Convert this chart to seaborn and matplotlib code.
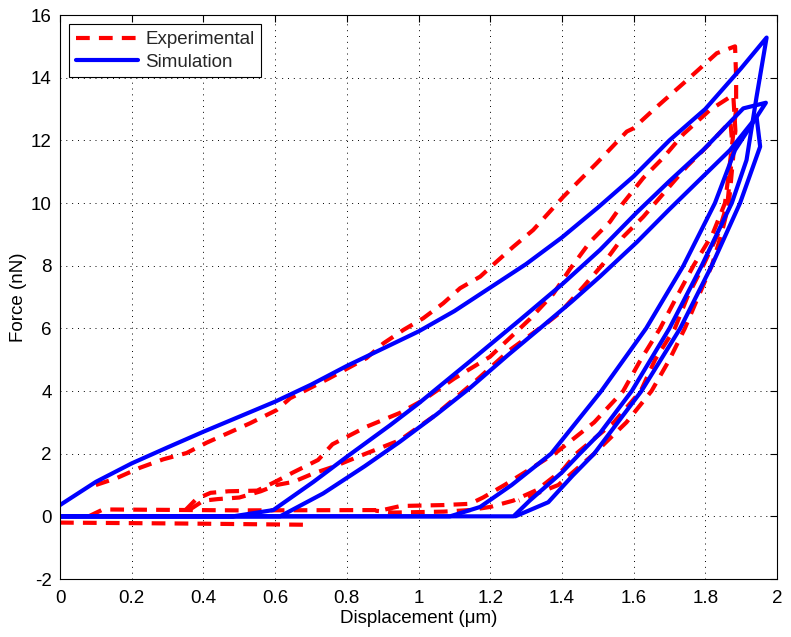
import matplotlib
matplotlib.use("Agg")
import numpy as np
import pandas as pd
import matplotlib.pyplot as plt
from matplotlib.lines import Line2D
import seaborn as sns

# ---------------------------
# DATA
# ---------------------------
# Simulation, three load/unload cycles
sim_c1_x = [0.0, 0.1, 0.2, 0.3, 0.4, 0.5, 0.6, 0.7, 0.8, 0.9, 1.0, 1.1, 1.2, 1.3, 1.4,
            1.5, 1.6, 1.7, 1.8, 1.9, 1.971, 1.943, 1.915, 1.874, 1.79, 1.70, 1.595,
            1.506, 1.45, 1.40, 1.31, 1.265, 0.0]
sim_c1_y = [0.36, 1.1, 1.69, 2.2, 2.7, 3.18, 3.66, 4.2, 4.8, 5.35, 5.9, 6.55, 7.3, 8.05, 8.9,
            9.85, 10.85, 12.0, 13.0, 14.3, 15.28, 13.39, 11.37, 10.0, 8.0, 6.0, 4.0,
            2.65, 2.0, 1.4, 0.5, 0.0, 0.0]

sim_c2_x = [0.0, 0.483, 0.595, 0.707, 0.8, 0.921, 1.0, 1.144, 1.283, 1.4, 1.506, 1.609, 1.7,
            1.794, 1.906, 1.969, 1.883, 1.827, 1.739, 1.635, 1.51, 1.37, 1.26, 1.172, 1.088, 0.0]
sim_c2_y = [0.0, 0.0, 0.2, 1.1, 1.9, 2.91, 3.6, 4.95, 6.27, 7.4, 8.5, 9.7, 10.7,
            11.69, 13.02, 13.2, 11.69, 10.0, 8.0, 6.0, 4.0, 2.0, 1.0, 0.3, 0.0, 0.0]

sim_c3_x = [0.0, 0.614, 0.734, 0.85, 0.948, 1.05, 1.144, 1.25, 1.339, 1.427, 1.506, 1.609,
            1.7, 1.869, 1.943, 1.953, 1.897, 1.818, 1.73, 1.622, 1.49, 1.43, 1.362, 1.27]
sim_c3_y = [0.0, 0.0, 0.73, 1.6, 2.38, 3.25, 4.1, 5.15, 6.0, 6.85, 7.65, 8.75,
            9.8, 11.69, 12.75, 11.8, 10.0, 8.0, 6.0, 4.0, 2.0, 1.3, 0.45, 0.0]

# Experimental, three cycles plus the negative baseline
exp_c1_x = [0.1, 0.158, 0.223, 0.288, 0.353, 0.409, 0.53, 0.604, 0.642, 0.75, 0.855, 0.902,
            0.958, 1.013, 1.069, 1.116, 1.172, 1.218, 1.264, 1.32, 1.404, 1.497, 1.581, 1.599,
            1.655, 1.739, 1.832, 1.883, 1.886, 1.886, 1.876, 1.866, 1.855, 1.82, 1.767, 1.72,
            1.674, 1.62, 1.571, 1.49, 1.38, 1.31, 1.24, 1.18, 1.144, 1.07, 0.95, 0.9, 0.5,
            0.12, 0.08]
exp_c1_y = [1.0, 1.22, 1.55, 1.82, 2.02, 2.35, 2.97, 3.39, 3.77, 4.4, 5.05, 5.52,
            5.95, 6.32, 6.8, 7.28, 7.65, 8.13, 8.6, 9.14, 10.2, 11.27, 12.28, 12.38,
            12.97, 13.82, 14.78, 15.0, 14.0, 13.0, 12.0, 11.0, 10.0, 9.0, 8.0, 7.0,
            6.0, 5.0, 4.0, 3.0, 2.0, 1.5, 1.0, 0.6, 0.4, 0.36, 0.33, 0.2, 0.19,
            0.22, 0.0]

exp_c2_x = [0.35, 0.38, 0.42, 0.47, 0.55, 0.6, 0.65, 0.72, 0.76, 0.855, 0.948, 1.013, 1.1,
            1.199, 1.311, 1.376, 1.423, 1.478, 1.534, 1.571, 1.627, 1.683, 1.739, 1.813,
            1.878, 1.884, 1.872, 1.862, 1.835, 1.794, 1.75, 1.715, 1.66, 1.62, 1.545, 1.44,
            1.404, 1.33, 1.264, 1.2, 1.144, 1.07, 0.93, 0.88]
exp_c2_y = [0.2, 0.55, 0.75, 0.8, 0.82, 1.1, 1.4, 1.8, 2.3, 2.86, 3.3, 3.71, 4.4,
            5.09, 6.3, 7.1, 7.9, 8.75, 9.4, 10.0, 10.8, 11.45, 12.2, 12.97,
            13.45, 12.3, 11.2, 10.0, 9.0, 8.0, 7.0, 6.0, 5.0, 4.0, 3.0, 2.0,
            1.5, 0.84, 0.5, 0.3, 0.2, 0.15, 0.12, 0.18]

exp_c3_x = [0.36, 0.40, 0.44, 0.5, 0.56, 0.604, 0.651, 0.707, 0.762, 0.855, 0.948, 1.041,
            1.162, 1.255, 1.357, 1.395, 1.46, 1.516, 1.571, 1.627, 1.748, 1.813, 1.87, 1.878,
            1.866, 1.845, 1.818, 1.78, 1.743, 1.70, 1.65, 1.58, 1.49, 1.39, 1.28]
exp_c3_y = [0.2, 0.5, 0.55, 0.6, 0.8, 1.0, 1.1, 1.37, 1.58, 2.01, 2.43, 3.18,
            4.35, 5.31, 6.16, 6.5, 7.33, 8.07, 8.92, 9.56, 11.16, 11.9, 12.6, 11.5,
            10.0, 9.0, 8.0, 7.0, 6.0, 5.0, 4.0, 3.0, 2.0, 1.0, 0.5]

exp_base_x = [0.0, 0.35, 0.7]
exp_base_y = [-0.2, -0.23, -0.27]

x_ticks = [0, 0.2, 0.4, 0.6, 0.8, 1, 1.2, 1.4, 1.6, 1.8, 2]
x_labels = ["0", "0.2", "0.4", "0.6", "0.8", "1", "1.2", "1.4", "1.6", "1.8", "2"]
y_ticks = [-2, 0, 2, 4, 6, 8, 10, 12, 14, 16]

# ---------------------------
# DATAFRAME
# ---------------------------
parts = [
    ("Experimental", "e0", exp_base_x, exp_base_y),
    ("Experimental", "e1", exp_c1_x, exp_c1_y),
    ("Experimental", "e2", exp_c2_x, exp_c2_y),
    ("Experimental", "e3", exp_c3_x, exp_c3_y),
    ("Simulation", "s1", sim_c1_x, sim_c1_y),
    ("Simulation", "s2", sim_c2_x, sim_c2_y),
    ("Simulation", "s3", sim_c3_x, sim_c3_y),
]
rows = []
for series, seg, xs, ys in parts:
    for i, (xv, yv) in enumerate(zip(xs, ys)):
        rows.append({"series": series, "segment": seg, "order": i, "x": xv, "y": yv})
df = pd.DataFrame(rows)

# ---------------------------
# PLOT
# ---------------------------
sns.set_theme(style="white")
plt.rcParams["font.family"] = ["Liberation Sans", "DejaVu Sans"]
plt.rcParams["axes.unicode_minus"] = False

FS = 13.5
colors = {"Experimental": "#ff0000", "Simulation": "#0000ff"}
dash_map = {"Experimental": (3.3, 2.2), "Simulation": ""}

fig = plt.figure(figsize=(7.91, 6.37), dpi=100)
ax = fig.add_axes([60 / 791, 58 / 637, 717 / 791, 564 / 637])

sns.lineplot(data=df, x="x", y="y", hue="series", style="series", units="segment",
             estimator=None, sort=False, palette=colors, dashes=dash_map,
             linewidth=3, legend=False, ax=ax)

ax.set_xlim(0, 2)
ax.set_ylim(-2, 16)
ax.set_xticks(x_ticks)
ax.set_xticklabels(x_labels)
ax.set_yticks(y_ticks)
ax.set_yticklabels([str(v) for v in y_ticks])

ax.grid(True, color="black", linestyle=(0, (1, 5)), linewidth=0.7)
for sp in ax.spines.values():
    sp.set_visible(True)
    sp.set_color("black")
    sp.set_linewidth(0.8)
ax.tick_params(direction="in", top=True, right=True, length=5, width=0.8,
               labelsize=FS, colors="black")
ax.tick_params(axis="x", pad=8)
ax.tick_params(axis="y", pad=6)

ax.set_xlabel("Displacement (μm)", fontsize=FS, color="black", labelpad=2)
ax.set_ylabel("Force (nN)", fontsize=FS, color="black", labelpad=2.5)

handles = [Line2D([], [], color=colors["Experimental"], lw=3, dashes=dash_map["Experimental"]),
           Line2D([], [], color=colors["Simulation"], lw=3)]
leg = ax.legend(handles, ["Experimental", "Simulation"], loc="upper left", fontsize=FS,
                frameon=True, fancybox=False, framealpha=1, edgecolor="black",
                handlelength=3.3, handletextpad=0.4, borderaxespad=0.5,
                labelspacing=0.3, borderpad=0.35)
leg.get_frame().set_linewidth(0.8)

fig.savefig("out.png", dpi=100)
